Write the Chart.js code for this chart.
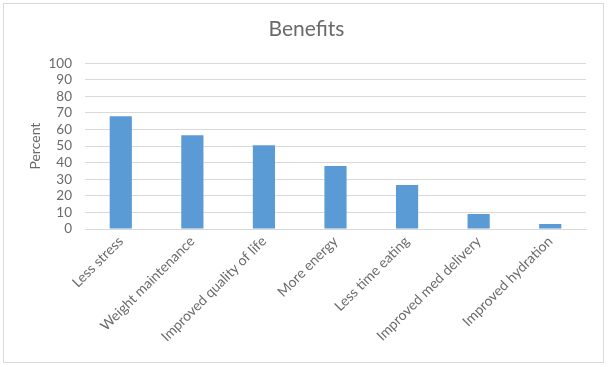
<!DOCTYPE html>
<html><head><meta charset="utf-8">
<script src="https://cdn.jsdelivr.net/npm/chart.js@4"></script>
<style>
html,body{margin:0;padding:0;background:#fff;}
#frame{position:absolute;left:3px;top:3px;width:601px;height:360px;border:1px solid #d9d9d9;box-sizing:border-box;}
#wrap{position:absolute;left:0;top:0;width:608px;height:367px;}
</style></head>
<body>
<div id="frame"></div>
<div id="wrap"><canvas id="c" width="608" height="367"></canvas></div>
<script>
const categories = ["Less stress","Weight maintenance","Improved quality of life","More energy","Less time eating","Improved med delivery","Improved hydration"];
const percentValues = [68, 56.5, 50.5, 38, 26.5, 9, 3];
const yTicks = [0,10,20,30,40,50,60,70,80,90,100];

const FONT = "Lato, 'Open Sans', sans-serif";
const GRAY = "#6a6a6a";

new Chart(document.getElementById('c'), {
  type: 'bar',
  data: {
    labels: categories,
    datasets: [{
      data: percentValues,
      backgroundColor: '#5b9bd5',
      borderWidth: 0,
      categoryPercentage: 1,
      barPercentage: 0.31
    }]
  },
  options: {
    responsive: false,
    animation: false,
    devicePixelRatio: 1,
    layout: { padding: { left: 27, right: 22, top: 14, bottom: 10 } },
    plugins: {
      legend: { display: false },
      tooltip: { enabled: false },
      title: {
        display: true,
        text: 'Benefits',
        color: GRAY,
        font: { family: FONT, size: 21, weight: 'normal' },
        padding: { top: 3, bottom: 21 }
      }
    },
    scales: {
      y: {
        min: 0, max: 100,
        afterBuildTicks: (s) => { s.ticks = yTicks.map(v => ({ value: v })); },
        ticks: { color: GRAY, font: { family: FONT, size: 13.5 }, padding: 13, autoSkip: false },
        grid: { color: '#d9d9d9', drawTicks: false },
        border: { display: false },
        title: { display: true, text: 'Percent', color: GRAY, font: { family: FONT, size: 14 }, padding: { top: 0, bottom: 4 } },
        afterFit: (s) => { s.width = 58; }
      },
      x: {
        ticks: { color: GRAY, font: { family: FONT, size: 14 }, minRotation: 45, maxRotation: 45, padding: 4, autoSkip: false },
        grid: { display: false, drawTicks: false },
        border: { display: true, color: '#d9d9d9' },
        afterFit: (s) => { s.height = 128; }
      }
    }
  }
});
</script>
</body></html>
